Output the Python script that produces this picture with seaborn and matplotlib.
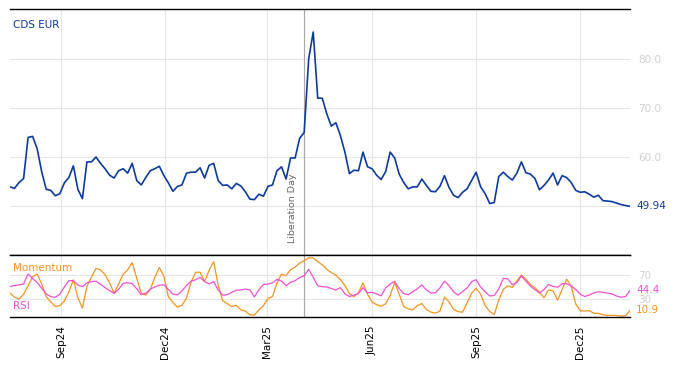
import numpy as np
import pandas as pd
import matplotlib
matplotlib.use("Agg")
import matplotlib.pyplot as plt
import matplotlib.dates as mdates
import matplotlib.transforms as mtransforms
import seaborn as sns

# ---------------- data ----------------
start_date = "2024-07-18"
end_date = "2026-01-14"
n_points = 138

cds_eur = [
    53.9, 53.6, 54.8, 55.6, 64.0, 64.2, 61.7, 57.0, 53.4, 53.2,
    52.1, 52.5, 54.7, 55.8, 58.2, 53.4, 51.5, 59.0, 59.0, 60.0,
    58.7, 57.6, 56.3, 55.7, 57.2, 57.6, 56.7, 58.7, 55.2, 54.3,
    55.8, 57.2, 57.6, 58.1, 56.2, 54.7, 53.0, 54.0, 54.3, 56.7,
    56.9, 56.9, 57.8, 55.7, 58.3, 58.7, 55.2, 54.2, 54.3, 53.5,
    54.6, 54.1, 52.9, 51.4, 51.3, 52.4, 52.0, 54.0, 54.3, 57.2,
    58.0, 55.5, 59.8, 59.8, 63.8, 65.0, 80.0, 85.5, 72.0, 72.0,
    68.8, 66.3, 67.0, 64.4, 61.0, 56.6, 57.3, 57.2, 61.0, 58.0,
    57.6, 56.3, 55.4, 57.0, 61.0, 59.8, 56.5, 54.8, 53.5, 53.9,
    53.9, 55.5, 54.2, 53.0, 52.9, 54.0, 56.2, 53.8, 52.2, 51.7,
    52.8, 53.5, 55.2, 56.9, 53.9, 52.5, 50.5, 50.7, 56.0, 56.9,
    56.0, 55.3, 56.7, 59.0, 56.8, 56.5, 55.6, 53.3, 54.2, 55.3,
    56.7, 54.3, 56.2, 55.8, 54.8, 53.2, 52.8, 52.9, 52.4, 51.8,
    52.2, 51.1, 51.0, 50.9, 50.6, 50.3, 50.1, 49.94,
]

rsi = [
    50.5, 52.6, 53.5, 55.0, 72.0, 64.0, 57.5, 48.0, 38.5, 34.0,
    32.8, 38.0, 50.0, 60.5, 60.7, 53.0, 50.5, 57.0, 59.0, 59.5,
    54.5, 49.0, 44.0, 39.5, 46.0, 56.0, 57.0, 55.6, 47.0, 37.0,
    39.4, 46.5, 50.0, 53.0, 53.6, 46.0, 38.0, 37.0, 43.5, 52.5,
    59.5, 62.0, 66.0, 59.0, 55.0, 59.0, 45.0, 36.5, 37.0, 41.0,
    44.7, 45.0, 46.5, 45.3, 33.5, 45.6, 54.4, 54.8, 56.8, 62.7,
    60.0, 52.0, 58.0, 60.5, 65.8, 68.8, 79.5, 66.0, 52.0, 50.5,
    50.0, 47.5, 45.0, 49.0, 38.6, 34.0, 36.6, 39.0, 49.0, 40.3,
    41.2, 38.5, 35.3, 48.5, 55.0, 59.4, 47.0, 39.0, 37.0, 42.0,
    47.0, 53.5, 45.0, 40.0, 40.4, 48.5, 59.6, 52.5, 42.0, 36.4,
    42.5, 48.2, 59.0, 62.0, 50.0, 42.0, 35.0, 36.0, 46.5, 64.4,
    63.5, 54.0, 57.5, 68.5, 60.0, 51.5, 45.5, 40.0, 45.8, 54.2,
    51.0, 49.5, 55.5, 55.5, 51.8, 46.0, 38.0, 34.2, 36.5, 40.0,
    42.0, 41.2, 39.9, 38.5, 35.0, 33.0, 33.9, 44.4,
]

momentum = [
    40.0, 33.0, 30.0, 38.0, 52.0, 67.0, 72.0, 55.0, 34.0, 25.0,
    17.5, 19.0, 26.5, 41.5, 62.0, 32.0, 15.0, 51.0, 66.5, 81.0,
    78.5, 70.5, 57.0, 39.5, 55.0, 71.0, 78.5, 90.5, 65.0, 39.5,
    36.5, 46.0, 66.0, 82.5, 68.0, 33.5, 24.0, 16.5, 19.5, 31.5,
    58.0, 74.5, 74.6, 59.0, 78.0, 92.2, 53.0, 27.3, 22.4, 17.3,
    19.5, 12.0, 9.9, 3.8, 3.0, 12.0, 19.0, 31.0, 34.0, 57.0,
    71.3, 69.0, 78.9, 83.0, 90.0, 93.7, 98.7, 98.3, 92.2, 86.8,
    79.3, 74.0, 69.8, 62.3, 52.5, 39.0, 33.9, 40.3, 57.0, 38.0,
    24.8, 20.6, 18.0, 22.0, 35.8, 57.5, 37.8, 17.3, 13.6, 11.7,
    19.0, 22.5, 12.4, 8.2, 6.4, 9.8, 33.0, 25.3, 13.0, 8.9,
    8.0, 24.0, 39.6, 48.0, 37.8, 19.0, 9.2, 4.0, 28.5, 46.2,
    51.8, 49.2, 60.1, 70.0, 63.1, 54.0, 48.8, 41.2, 32.0, 45.0,
    43.5, 28.0, 46.0, 63.1, 51.5, 21.8, 10.7, 9.8, 10.8, 6.2,
    6.1, 3.9, 2.6, 2.9, 2.5, 1.7, 1.7, 10.9,
]

event_date = "2025-04-02"
event_label = "Liberation Day"
series_name = "CDS EUR"
top_ticks = [50, 60, 70, 80]
top_tick_labels = ["", "60.0", "70.0", "80.0"]
bottom_ticks = [30, 70]
bottom_tick_labels = ["30", "70"]

# ---------------- styling ----------------
C_CDS = "#0c3a9e"
C_MOM = "#f7931e"
C_RSI = "#f24fd4"
C_TICK = "#cfcfcf"
C_GRID = "#e6e6e6"

sns.set_style("white")
plt.rcParams["font.family"] = ["DejaVu Sans"]

dates = pd.date_range(start_date, end_date, periods=n_points)
df = pd.DataFrame({"date": dates, "cds": cds_eur, "rsi": rsi, "mom": momentum})

W, H = 674, 366
fig = plt.figure(figsize=(W / 100, H / 100), dpi=100)
ax1 = fig.add_axes([10 / W, 1 - 255 / H, 620 / W, 246 / H])
ax2 = fig.add_axes([10 / W, 1 - 317 / H, 620 / W, 62 / H], sharex=ax1)

sns.lineplot(data=df, x="date", y="cds", ax=ax1, color=C_CDS, linewidth=1.2)
sns.lineplot(data=df, x="date", y="mom", ax=ax2, color=C_MOM, linewidth=0.9)
sns.lineplot(data=df, x="date", y="rsi", ax=ax2, color=C_RSI, linewidth=0.9)

ev = pd.Timestamp(event_date)
for ax in (ax1, ax2):
    ax.axvline(ev, color="#aaaaaa", linewidth=0.9, zorder=1)
    ax.grid(True, color=C_GRID, linewidth=0.8)
    ax.set_axisbelow(True)
    ax.set_xlabel("")
    ax.set_ylabel("")
    for s in ("left", "right"):
        ax.spines[s].set_visible(False)
    for s in ("top", "bottom"):
        ax.spines[s].set_visible(True)
        ax.spines[s].set_color("black")
        ax.spines[s].set_linewidth(1.0)
    ax.yaxis.tick_right()
    ax.tick_params(axis="y", length=0, pad=6, labelsize=7.5, labelcolor=C_TICK)
    ax.tick_params(axis="x", direction="in", length=4, width=1, color="black")

ax1.set_xlim(dates[0], dates[-1])
ax1.xaxis.set_major_locator(mdates.MonthLocator(bymonth=[3, 6, 9, 12]))
ax1.xaxis.set_major_formatter(mdates.DateFormatter("%b%y"))
ax1.tick_params(axis="x", labelbottom=False)
ax2.tick_params(axis="x", labelsize=7.5, labelrotation=90, pad=6, labelcolor="black")

ax1.set_ylim(40, 90.2)
ax1.set_yticks(top_ticks)
ax1.set_yticklabels(top_tick_labels)
ax2.set_ylim(0, 103.3)
ax2.set_yticks(bottom_ticks)
ax2.set_yticklabels(bottom_tick_labels)

# last values on right
tr1 = mtransforms.blended_transform_factory(ax1.transAxes, ax1.transData)
ax1.text(1.0 + 6 / 620, cds_eur[-1], f"{cds_eur[-1]:.2f}", transform=tr1,
         color=C_CDS, fontsize=7.5, va="center", ha="left")
tr2 = mtransforms.blended_transform_factory(ax2.transAxes, ax2.transData)
ax2.text(1.0 + 6 / 620, rsi[-1], f"{rsi[-1]:.1f}", transform=tr2,
         color=C_RSI, fontsize=7.5, va="center", ha="left")
ax2.text(1.0 + 6 / 620, momentum[-1], f"{momentum[-1]:.1f}", transform=tr2,
         color=C_MOM, fontsize=7.5, va="center", ha="left")

# labels
ax1.text(3 / 620, 1 - 16 / 246, series_name, transform=ax1.transAxes,
         color=C_CDS, fontsize=7.5, va="center", ha="left")
ax2.text(3 / 620, 1 - 13 / 62, "Momentum", transform=ax2.transAxes,
         color=C_MOM, fontsize=7.5, va="center", ha="left",
         bbox=dict(facecolor="white", alpha=0.75, edgecolor="none", pad=0.5))
ax2.text(3 / 620, 1 - 51 / 62, "RSI", transform=ax2.transAxes,
         color=C_RSI, fontsize=7.5, va="center", ha="left",
         bbox=dict(facecolor="white", alpha=0.75, edgecolor="none", pad=0.5))

ax1.annotate(event_label, xy=(ev, 42.4), xytext=(-5, 0), textcoords="offset points",
             rotation=90, ha="right", va="bottom", color="#666666", fontsize=6.8)

fig.savefig("out.png", dpi=100)
